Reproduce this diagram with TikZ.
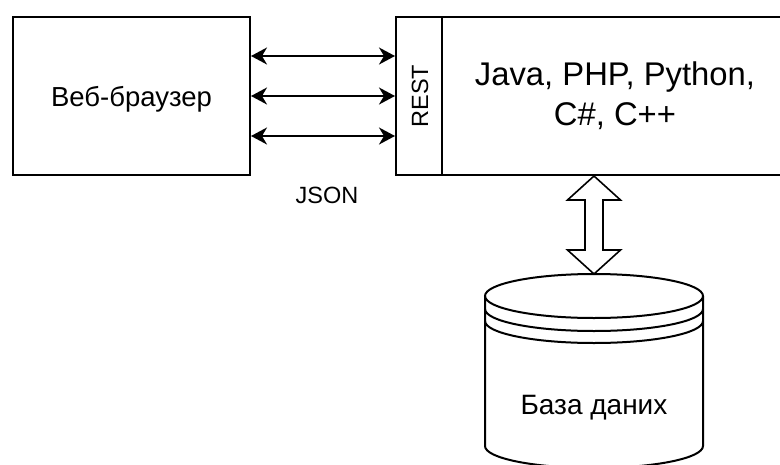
\documentclass[tikz,border=0pt]{standalone}
\usepackage{fontspec}
\setmainfont{Liberation Sans}
\usetikzlibrary{calc,arrows.meta}
\begin{document}
\begin{tikzpicture}[x=1pt,y=-1pt,line width=2pt,
  box/.style={draw,rectangle,inner sep=0pt},
  biarrow/.style={{Stealth[length=16pt,width=17pt,inset=5pt]}-{Stealth[length=16pt,width=17pt,inset=5pt]}},
  smalltext/.style={font=\fontsize{23.5}{28}\selectfont}]
\useasboundingbox (0,0) rectangle (780,464);
\clip (0,0) rectangle (780,464);

% client and server boxes
\node[box,minimum width=237pt,minimum height=158pt,text depth=0pt,
      font=\fontsize{27.5}{33}\selectfont] (browser) at (131.5,96) {Веб-браузер};
\node[box,minimum width=46pt,minimum height=158pt] (rest) at (419,96) {};
\node[smalltext,rotate=90] (resttxt) at (420,96) {REST};
\node[box,minimum width=346pt,minimum height=158pt,align=center,
      font=\fontsize{32.8}{40}\selectfont] (srv) at (615,96) {Java, PHP, Python,\\C\#, C++};

% request / response arrows
\foreach \f in {0.25,0.5,0.75}
  \draw[biarrow] ($(browser.north east)!\f!(browser.south east)$) -- ($(rest.north west)!\f!(rest.south west)$);
\node[smalltext] (json) at (327,195) {JSON};

% database cylinder
\coordinate (dbtop) at (594,274);
\draw (485,296) -- (485,446) arc[start angle=180,end angle=360,x radius=109pt,y radius=22pt] -- (703,296);
\draw (594,296) ellipse [x radius=109pt,y radius=22pt];
\draw (485,309) arc[start angle=180,end angle=360,x radius=109pt,y radius=22pt];
\draw (485,321) arc[start angle=180,end angle=360,x radius=109pt,y radius=22pt];
\node[text depth=0pt,font=\fontsize{28}{33}\selectfont] (db) at (594,405) {База даних};

% block double arrow between server and database
\coordinate (up) at (srv.south -| dbtop);
\draw[line width=1.6pt,line join=miter]
  (up) -- ($(up)+(26.5,24)$) -- ($(up)+(9,24)$) -- ($(dbtop)+(9,-24)$) -- ($(dbtop)+(26.5,-24)$)
  -- (dbtop) -- ($(dbtop)+(-26.5,-24)$) -- ($(dbtop)+(-9,-24)$) -- ($(up)+(-9,24)$) -- ($(up)+(-26.5,24)$) -- cycle;
\end{tikzpicture}
\end{document}
